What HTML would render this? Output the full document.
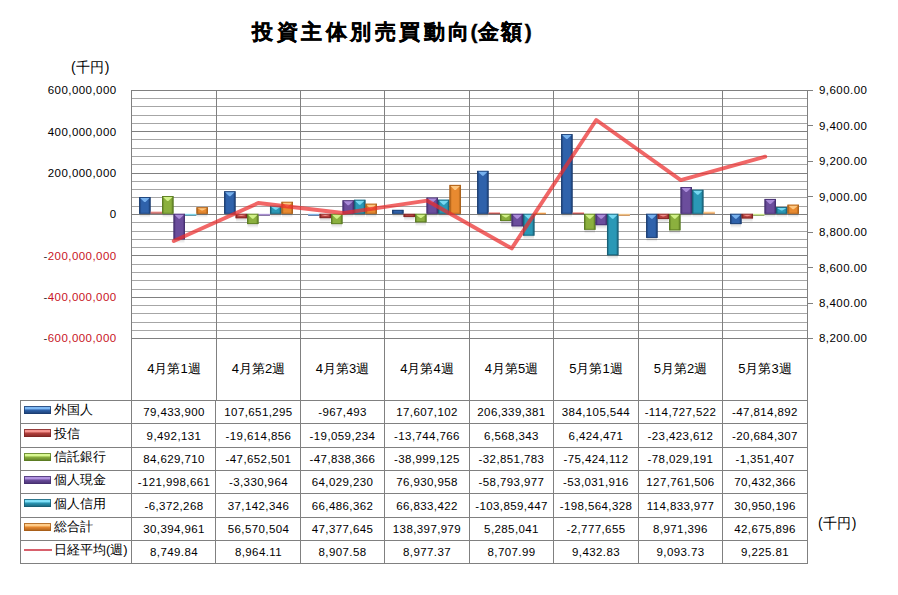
<!DOCTYPE html>
<html><head><meta charset="utf-8"><style>
html,body{margin:0;padding:0;background:#fff;}
body{width:898px;height:595px;position:relative;overflow:hidden;font-family:"Liberation Sans",sans-serif;color:#000;}
svg{position:absolute;left:0;top:0;}
.t{position:absolute;white-space:nowrap;line-height:16px;}
.title{font-size:21px;font-weight:bold;line-height:28px;-webkit-text-stroke:0.35px #000;}
.cj{letter-spacing:3.5px;}
.lab{font-size:14px;letter-spacing:0.4px;}
.ax{font-size:11.5px;text-align:right;letter-spacing:0.45px;}
.cell{width:84px;text-align:center;font-size:11.5px;letter-spacing:0.4px;}
.hd{letter-spacing:0;font-size:13px;}
.lname{font-size:13px;line-height:18px;}
</style></head><body>
<svg width="898" height="595">
<defs><linearGradient id="g0" x1="0" x2="1" y1="0" y2="0"><stop offset="0" stop-color="#1b3d70"/><stop offset="0.22" stop-color="#2f62ab"/><stop offset="0.78" stop-color="#2f62ab"/><stop offset="1" stop-color="#1b3d70"/></linearGradient><linearGradient id="k0" x1="0" x2="0" y1="0" y2="1"><stop offset="0" stop-color="#80baf5"/><stop offset="0.35" stop-color="#80baf5"/><stop offset="0.5" stop-color="#2f62ab"/><stop offset="1" stop-color="#1b3d70"/></linearGradient><linearGradient id="g1" x1="0" x2="1" y1="0" y2="0"><stop offset="0" stop-color="#7e2624"/><stop offset="0.22" stop-color="#b5403d"/><stop offset="0.78" stop-color="#b5403d"/><stop offset="1" stop-color="#7e2624"/></linearGradient><linearGradient id="k1" x1="0" x2="0" y1="0" y2="1"><stop offset="0" stop-color="#f59590"/><stop offset="0.35" stop-color="#f59590"/><stop offset="0.5" stop-color="#b5403d"/><stop offset="1" stop-color="#7e2624"/></linearGradient><linearGradient id="g2" x1="0" x2="1" y1="0" y2="0"><stop offset="0" stop-color="#5a7a22"/><stop offset="0.22" stop-color="#8bb03e"/><stop offset="0.78" stop-color="#8bb03e"/><stop offset="1" stop-color="#5a7a22"/></linearGradient><linearGradient id="k2" x1="0" x2="0" y1="0" y2="1"><stop offset="0" stop-color="#d8f890"/><stop offset="0.35" stop-color="#d8f890"/><stop offset="0.5" stop-color="#8bb03e"/><stop offset="1" stop-color="#5a7a22"/></linearGradient><linearGradient id="g3" x1="0" x2="1" y1="0" y2="0"><stop offset="0" stop-color="#463070"/><stop offset="0.22" stop-color="#6b4d9c"/><stop offset="0.78" stop-color="#6b4d9c"/><stop offset="1" stop-color="#463070"/></linearGradient><linearGradient id="k3" x1="0" x2="0" y1="0" y2="1"><stop offset="0" stop-color="#b193e0"/><stop offset="0.35" stop-color="#b193e0"/><stop offset="0.5" stop-color="#6b4d9c"/><stop offset="1" stop-color="#463070"/></linearGradient><linearGradient id="g4" x1="0" x2="1" y1="0" y2="0"><stop offset="0" stop-color="#185e74"/><stop offset="0.22" stop-color="#2a98b6"/><stop offset="0.78" stop-color="#2a98b6"/><stop offset="1" stop-color="#185e74"/></linearGradient><linearGradient id="k4" x1="0" x2="0" y1="0" y2="1"><stop offset="0" stop-color="#80e0f8"/><stop offset="0.35" stop-color="#80e0f8"/><stop offset="0.5" stop-color="#2a98b6"/><stop offset="1" stop-color="#185e74"/></linearGradient><linearGradient id="g5" x1="0" x2="1" y1="0" y2="0"><stop offset="0" stop-color="#a85e18"/><stop offset="0.22" stop-color="#e88a30"/><stop offset="0.78" stop-color="#e88a30"/><stop offset="1" stop-color="#a85e18"/></linearGradient><linearGradient id="k5" x1="0" x2="0" y1="0" y2="1"><stop offset="0" stop-color="#ffcc88"/><stop offset="0.35" stop-color="#ffcc88"/><stop offset="0.5" stop-color="#e88a30"/><stop offset="1" stop-color="#a85e18"/></linearGradient><linearGradient id="sh" x1="0" x2="0" y1="0" y2="1"><stop offset="0" stop-color="#000" stop-opacity="0.16"/><stop offset="1" stop-color="#000" stop-opacity="0"/></linearGradient></defs>
<line x1="131" y1="90.5" x2="807" y2="90.5" stroke="#808080" stroke-width="1"/>
<line x1="131" y1="98.5" x2="807" y2="98.5" stroke="#a6a6a6" stroke-width="1"/>
<line x1="131" y1="106.5" x2="807" y2="106.5" stroke="#a6a6a6" stroke-width="1"/>
<line x1="131" y1="115.5" x2="807" y2="115.5" stroke="#a6a6a6" stroke-width="1"/>
<line x1="131" y1="123.5" x2="807" y2="123.5" stroke="#a6a6a6" stroke-width="1"/>
<line x1="131" y1="131.5" x2="807" y2="131.5" stroke="#808080" stroke-width="1"/>
<line x1="131" y1="139.5" x2="807" y2="139.5" stroke="#a6a6a6" stroke-width="1"/>
<line x1="131" y1="148.5" x2="807" y2="148.5" stroke="#a6a6a6" stroke-width="1"/>
<line x1="131" y1="156.5" x2="807" y2="156.5" stroke="#a6a6a6" stroke-width="1"/>
<line x1="131" y1="164.5" x2="807" y2="164.5" stroke="#a6a6a6" stroke-width="1"/>
<line x1="131" y1="173.5" x2="807" y2="173.5" stroke="#808080" stroke-width="1"/>
<line x1="131" y1="181.5" x2="807" y2="181.5" stroke="#a6a6a6" stroke-width="1"/>
<line x1="131" y1="189.5" x2="807" y2="189.5" stroke="#a6a6a6" stroke-width="1"/>
<line x1="131" y1="197.5" x2="807" y2="197.5" stroke="#a6a6a6" stroke-width="1"/>
<line x1="131" y1="206.5" x2="807" y2="206.5" stroke="#a6a6a6" stroke-width="1"/>
<line x1="131" y1="214.5" x2="807" y2="214.5" stroke="#808080" stroke-width="1"/>
<line x1="131" y1="222.5" x2="807" y2="222.5" stroke="#a6a6a6" stroke-width="1"/>
<line x1="131" y1="231.5" x2="807" y2="231.5" stroke="#a6a6a6" stroke-width="1"/>
<line x1="131" y1="239.5" x2="807" y2="239.5" stroke="#a6a6a6" stroke-width="1"/>
<line x1="131" y1="247.5" x2="807" y2="247.5" stroke="#a6a6a6" stroke-width="1"/>
<line x1="131" y1="255.5" x2="807" y2="255.5" stroke="#808080" stroke-width="1"/>
<line x1="131" y1="264.5" x2="807" y2="264.5" stroke="#a6a6a6" stroke-width="1"/>
<line x1="131" y1="272.5" x2="807" y2="272.5" stroke="#a6a6a6" stroke-width="1"/>
<line x1="131" y1="280.5" x2="807" y2="280.5" stroke="#a6a6a6" stroke-width="1"/>
<line x1="131" y1="289.5" x2="807" y2="289.5" stroke="#a6a6a6" stroke-width="1"/>
<line x1="131" y1="297.5" x2="807" y2="297.5" stroke="#808080" stroke-width="1"/>
<line x1="131" y1="305.5" x2="807" y2="305.5" stroke="#a6a6a6" stroke-width="1"/>
<line x1="131" y1="313.5" x2="807" y2="313.5" stroke="#a6a6a6" stroke-width="1"/>
<line x1="131" y1="322.5" x2="807" y2="322.5" stroke="#a6a6a6" stroke-width="1"/>
<line x1="131" y1="330.5" x2="807" y2="330.5" stroke="#a6a6a6" stroke-width="1"/>
<line x1="131" y1="338.5" x2="807" y2="338.5" stroke="#808080" stroke-width="1"/>
<line x1="131.5" y1="90" x2="131.5" y2="563.5" stroke="#808080" stroke-width="1"/>
<line x1="216.5" y1="90" x2="216.5" y2="400.5" stroke="#808080" stroke-width="1"/>
<line x1="215.5" y1="400.5" x2="215.5" y2="563.5" stroke="#808080" stroke-width="1"/>
<line x1="300.5" y1="90" x2="300.5" y2="563.5" stroke="#808080" stroke-width="1"/>
<line x1="384.5" y1="90" x2="384.5" y2="563.5" stroke="#808080" stroke-width="1"/>
<line x1="469.5" y1="90" x2="469.5" y2="563.5" stroke="#808080" stroke-width="1"/>
<line x1="553.5" y1="90" x2="553.5" y2="563.5" stroke="#808080" stroke-width="1"/>
<line x1="638.5" y1="90" x2="638.5" y2="563.5" stroke="#808080" stroke-width="1"/>
<line x1="722.5" y1="90" x2="722.5" y2="563.5" stroke="#808080" stroke-width="1"/>
<line x1="807.5" y1="90" x2="807.5" y2="563.5" stroke="#808080" stroke-width="1"/>
<line x1="807" y1="90.5" x2="813" y2="90.5" stroke="#808080" stroke-width="1"/>
<line x1="807" y1="125.5" x2="813" y2="125.5" stroke="#808080" stroke-width="1"/>
<line x1="807" y1="161.5" x2="813" y2="161.5" stroke="#808080" stroke-width="1"/>
<line x1="807" y1="196.5" x2="813" y2="196.5" stroke="#808080" stroke-width="1"/>
<line x1="807" y1="232.5" x2="813" y2="232.5" stroke="#808080" stroke-width="1"/>
<line x1="807" y1="267.5" x2="813" y2="267.5" stroke="#808080" stroke-width="1"/>
<line x1="807" y1="303.5" x2="813" y2="303.5" stroke="#808080" stroke-width="1"/>
<line x1="807" y1="338.5" x2="813" y2="338.5" stroke="#808080" stroke-width="1"/>
<rect x="139.60" y="213.80" width="10.47" height="4" fill="url(#sh)"/>
<rect x="139.10" y="197.08" width="11.47" height="16.72" fill="url(#g0)"/>
<rect x="139.60" y="197.58" width="10.47" height="15.72" fill="none" stroke="#1b3d70" stroke-opacity="0.8" stroke-width="1"/>
<polygon points="140.10,198.08 149.57,198.08 145.44,202.08 144.24,202.08" fill="#80baf5" fill-opacity="0.9"/>
<rect x="150.57" y="211.54" width="11.47" height="2.26" fill="url(#k1)" opacity="0.85"/>
<rect x="162.54" y="213.80" width="10.47" height="4" fill="url(#sh)"/>
<rect x="162.04" y="196.01" width="11.47" height="17.79" fill="url(#g2)"/>
<rect x="162.54" y="196.51" width="10.47" height="16.79" fill="none" stroke="#5a7a22" stroke-opacity="0.8" stroke-width="1"/>
<polygon points="163.04,197.01 172.51,197.01 168.38,201.01 167.18,201.01" fill="#d8f890" fill-opacity="0.9"/>
<rect x="174.01" y="239.41" width="10.47" height="4" fill="url(#sh)"/>
<rect x="173.51" y="213.80" width="11.47" height="25.61" fill="url(#g3)"/>
<rect x="174.01" y="214.30" width="10.47" height="24.61" fill="none" stroke="#463070" stroke-opacity="0.8" stroke-width="1"/>
<polygon points="174.51,214.80 183.98,214.80 179.84,218.80 178.65,218.80" fill="#b193e0" fill-opacity="0.9"/>
<rect x="184.98" y="213.80" width="11.47" height="2.00" fill="url(#k4)" opacity="0.85"/>
<rect x="196.95" y="213.80" width="10.47" height="4" fill="url(#sh)"/>
<rect x="196.45" y="207.22" width="11.47" height="6.58" fill="url(#g5)"/>
<rect x="196.95" y="207.72" width="10.47" height="5.58" fill="none" stroke="#a85e18" stroke-opacity="0.8" stroke-width="1"/>
<polygon points="197.45,208.22 206.92,208.22 202.78,210.51 201.59,210.51" fill="#ffcc88" fill-opacity="0.9"/>
<rect x="224.60" y="213.80" width="10.47" height="4" fill="url(#sh)"/>
<rect x="224.10" y="191.25" width="11.47" height="22.55" fill="url(#g0)"/>
<rect x="224.60" y="191.75" width="10.47" height="21.55" fill="none" stroke="#1b3d70" stroke-opacity="0.8" stroke-width="1"/>
<polygon points="225.10,192.25 234.57,192.25 230.44,196.25 229.24,196.25" fill="#80baf5" fill-opacity="0.9"/>
<rect x="236.07" y="218.25" width="10.47" height="4" fill="url(#sh)"/>
<rect x="235.57" y="213.80" width="11.47" height="4.45" fill="url(#g1)"/>
<rect x="236.07" y="214.30" width="10.47" height="3.45" fill="none" stroke="#7e2624" stroke-opacity="0.8" stroke-width="1"/>
<polygon points="236.57,214.80 246.04,214.80 241.91,216.03 240.71,216.03" fill="#f59590" fill-opacity="0.9"/>
<rect x="247.54" y="224.05" width="10.47" height="4" fill="url(#sh)"/>
<rect x="247.04" y="213.80" width="11.47" height="10.25" fill="url(#g2)"/>
<rect x="247.54" y="214.30" width="10.47" height="9.25" fill="none" stroke="#5a7a22" stroke-opacity="0.8" stroke-width="1"/>
<polygon points="248.04,214.80 257.51,214.80 253.38,218.80 252.18,218.80" fill="#d8f890" fill-opacity="0.9"/>
<rect x="258.51" y="213.80" width="11.47" height="2.00" fill="url(#k3)" opacity="0.85"/>
<rect x="270.48" y="213.80" width="10.47" height="4" fill="url(#sh)"/>
<rect x="269.98" y="205.82" width="11.47" height="7.98" fill="url(#g4)"/>
<rect x="270.48" y="206.32" width="10.47" height="6.98" fill="none" stroke="#185e74" stroke-opacity="0.8" stroke-width="1"/>
<polygon points="270.98,206.82 280.45,206.82 276.32,209.81 275.12,209.81" fill="#80e0f8" fill-opacity="0.9"/>
<rect x="281.95" y="213.80" width="10.47" height="4" fill="url(#sh)"/>
<rect x="281.45" y="201.81" width="11.47" height="11.99" fill="url(#g5)"/>
<rect x="281.95" y="202.31" width="10.47" height="10.99" fill="none" stroke="#a85e18" stroke-opacity="0.8" stroke-width="1"/>
<polygon points="282.45,202.81 291.92,202.81 287.79,206.81 286.58,206.81" fill="#ffcc88" fill-opacity="0.9"/>
<rect x="308.10" y="213.80" width="11.47" height="2.00" fill="url(#k0)" opacity="0.85"/>
<rect x="320.07" y="218.14" width="10.47" height="4" fill="url(#sh)"/>
<rect x="319.57" y="213.80" width="11.47" height="4.34" fill="url(#g1)"/>
<rect x="320.07" y="214.30" width="10.47" height="3.34" fill="none" stroke="#7e2624" stroke-opacity="0.8" stroke-width="1"/>
<polygon points="320.57,214.80 330.04,214.80 325.91,215.97 324.71,215.97" fill="#f59590" fill-opacity="0.9"/>
<rect x="331.54" y="224.09" width="10.47" height="4" fill="url(#sh)"/>
<rect x="331.04" y="213.80" width="11.47" height="10.29" fill="url(#g2)"/>
<rect x="331.54" y="214.30" width="10.47" height="9.29" fill="none" stroke="#5a7a22" stroke-opacity="0.8" stroke-width="1"/>
<polygon points="332.04,214.80 341.51,214.80 337.38,218.80 336.18,218.80" fill="#d8f890" fill-opacity="0.9"/>
<rect x="343.01" y="213.80" width="10.47" height="4" fill="url(#sh)"/>
<rect x="342.51" y="200.27" width="11.47" height="13.53" fill="url(#g3)"/>
<rect x="343.01" y="200.77" width="10.47" height="12.53" fill="none" stroke="#463070" stroke-opacity="0.8" stroke-width="1"/>
<polygon points="343.51,201.27 352.98,201.27 348.85,205.27 347.65,205.27" fill="#b193e0" fill-opacity="0.9"/>
<rect x="354.48" y="213.80" width="10.47" height="4" fill="url(#sh)"/>
<rect x="353.98" y="199.76" width="11.47" height="14.04" fill="url(#g4)"/>
<rect x="354.48" y="200.26" width="10.47" height="13.04" fill="none" stroke="#185e74" stroke-opacity="0.8" stroke-width="1"/>
<polygon points="354.98,200.76 364.45,200.76 360.32,204.76 359.12,204.76" fill="#80e0f8" fill-opacity="0.9"/>
<rect x="365.95" y="213.80" width="10.47" height="4" fill="url(#sh)"/>
<rect x="365.45" y="203.71" width="11.47" height="10.09" fill="url(#g5)"/>
<rect x="365.95" y="204.21" width="10.47" height="9.09" fill="none" stroke="#a85e18" stroke-opacity="0.8" stroke-width="1"/>
<polygon points="366.45,204.71 375.92,204.71 371.79,208.71 370.59,208.71" fill="#ffcc88" fill-opacity="0.9"/>
<rect x="392.60" y="213.80" width="10.47" height="4" fill="url(#sh)"/>
<rect x="392.10" y="209.86" width="11.47" height="3.94" fill="url(#g0)"/>
<rect x="392.60" y="210.36" width="10.47" height="2.94" fill="none" stroke="#1b3d70" stroke-opacity="0.8" stroke-width="1"/>
<rect x="404.07" y="217.04" width="10.47" height="4" fill="url(#sh)"/>
<rect x="403.57" y="213.80" width="11.47" height="3.24" fill="url(#g1)"/>
<rect x="404.07" y="214.30" width="10.47" height="2.24" fill="none" stroke="#7e2624" stroke-opacity="0.8" stroke-width="1"/>
<rect x="415.54" y="222.26" width="10.47" height="4" fill="url(#sh)"/>
<rect x="415.04" y="213.80" width="11.47" height="8.46" fill="url(#g2)"/>
<rect x="415.54" y="214.30" width="10.47" height="7.46" fill="none" stroke="#5a7a22" stroke-opacity="0.8" stroke-width="1"/>
<polygon points="416.04,214.80 425.51,214.80 421.38,218.03 420.18,218.03" fill="#d8f890" fill-opacity="0.9"/>
<rect x="427.01" y="213.80" width="10.47" height="4" fill="url(#sh)"/>
<rect x="426.51" y="197.60" width="11.47" height="16.20" fill="url(#g3)"/>
<rect x="427.01" y="198.10" width="10.47" height="15.20" fill="none" stroke="#463070" stroke-opacity="0.8" stroke-width="1"/>
<polygon points="427.51,198.60 436.98,198.60 432.85,202.60 431.65,202.60" fill="#b193e0" fill-opacity="0.9"/>
<rect x="438.48" y="213.80" width="10.47" height="4" fill="url(#sh)"/>
<rect x="437.98" y="199.69" width="11.47" height="14.11" fill="url(#g4)"/>
<rect x="438.48" y="200.19" width="10.47" height="13.11" fill="none" stroke="#185e74" stroke-opacity="0.8" stroke-width="1"/>
<polygon points="438.98,200.69 448.45,200.69 444.32,204.69 443.12,204.69" fill="#80e0f8" fill-opacity="0.9"/>
<rect x="449.95" y="213.80" width="10.47" height="4" fill="url(#sh)"/>
<rect x="449.45" y="184.90" width="11.47" height="28.90" fill="url(#g5)"/>
<rect x="449.95" y="185.40" width="10.47" height="27.90" fill="none" stroke="#a85e18" stroke-opacity="0.8" stroke-width="1"/>
<polygon points="450.45,185.90 459.92,185.90 455.79,189.90 454.59,189.90" fill="#ffcc88" fill-opacity="0.9"/>
<rect x="477.60" y="213.80" width="10.47" height="4" fill="url(#sh)"/>
<rect x="477.10" y="170.86" width="11.47" height="42.94" fill="url(#g0)"/>
<rect x="477.60" y="171.36" width="10.47" height="41.94" fill="none" stroke="#1b3d70" stroke-opacity="0.8" stroke-width="1"/>
<polygon points="478.10,171.86 487.57,171.86 483.44,175.86 482.24,175.86" fill="#80baf5" fill-opacity="0.9"/>
<rect x="488.57" y="212.14" width="11.47" height="2.00" fill="url(#k1)" opacity="0.85"/>
<rect x="500.54" y="220.99" width="10.47" height="4" fill="url(#sh)"/>
<rect x="500.04" y="213.80" width="11.47" height="7.19" fill="url(#g2)"/>
<rect x="500.54" y="214.30" width="10.47" height="6.19" fill="none" stroke="#5a7a22" stroke-opacity="0.8" stroke-width="1"/>
<polygon points="501.04,214.80 510.51,214.80 506.38,217.39 505.18,217.39" fill="#d8f890" fill-opacity="0.9"/>
<rect x="512.01" y="226.35" width="10.47" height="4" fill="url(#sh)"/>
<rect x="511.51" y="213.80" width="11.47" height="12.55" fill="url(#g3)"/>
<rect x="512.01" y="214.30" width="10.47" height="11.55" fill="none" stroke="#463070" stroke-opacity="0.8" stroke-width="1"/>
<polygon points="512.51,214.80 521.98,214.80 517.85,218.80 516.64,218.80" fill="#b193e0" fill-opacity="0.9"/>
<rect x="523.48" y="235.66" width="10.47" height="4" fill="url(#sh)"/>
<rect x="522.98" y="213.80" width="11.47" height="21.86" fill="url(#g4)"/>
<rect x="523.48" y="214.30" width="10.47" height="20.86" fill="none" stroke="#185e74" stroke-opacity="0.8" stroke-width="1"/>
<polygon points="523.98,214.80 533.45,214.80 529.32,218.80 528.12,218.80" fill="#80e0f8" fill-opacity="0.9"/>
<rect x="534.45" y="212.41" width="11.47" height="2.00" fill="url(#k5)" opacity="0.85"/>
<rect x="561.60" y="213.80" width="10.47" height="4" fill="url(#sh)"/>
<rect x="561.10" y="134.12" width="11.47" height="79.68" fill="url(#g0)"/>
<rect x="561.60" y="134.62" width="10.47" height="78.68" fill="none" stroke="#1b3d70" stroke-opacity="0.8" stroke-width="1"/>
<polygon points="562.10,135.12 571.57,135.12 567.44,139.12 566.24,139.12" fill="#80baf5" fill-opacity="0.9"/>
<rect x="572.57" y="212.17" width="11.47" height="2.00" fill="url(#k1)" opacity="0.85"/>
<rect x="584.54" y="229.79" width="10.47" height="4" fill="url(#sh)"/>
<rect x="584.04" y="213.80" width="11.47" height="15.99" fill="url(#g2)"/>
<rect x="584.54" y="214.30" width="10.47" height="14.99" fill="none" stroke="#5a7a22" stroke-opacity="0.8" stroke-width="1"/>
<polygon points="585.04,214.80 594.51,214.80 590.38,218.80 589.18,218.80" fill="#d8f890" fill-opacity="0.9"/>
<rect x="596.01" y="225.16" width="10.47" height="4" fill="url(#sh)"/>
<rect x="595.51" y="213.80" width="11.47" height="11.36" fill="url(#g3)"/>
<rect x="596.01" y="214.30" width="10.47" height="10.36" fill="none" stroke="#463070" stroke-opacity="0.8" stroke-width="1"/>
<polygon points="596.51,214.80 605.98,214.80 601.85,218.80 600.64,218.80" fill="#b193e0" fill-opacity="0.9"/>
<rect x="607.48" y="255.24" width="10.47" height="4" fill="url(#sh)"/>
<rect x="606.98" y="213.80" width="11.47" height="41.44" fill="url(#g4)"/>
<rect x="607.48" y="214.30" width="10.47" height="40.44" fill="none" stroke="#185e74" stroke-opacity="0.8" stroke-width="1"/>
<polygon points="607.98,214.80 617.45,214.80 613.32,218.80 612.12,218.80" fill="#80e0f8" fill-opacity="0.9"/>
<rect x="618.45" y="213.80" width="11.47" height="2.00" fill="url(#k5)" opacity="0.85"/>
<rect x="646.60" y="237.91" width="10.47" height="4" fill="url(#sh)"/>
<rect x="646.10" y="213.80" width="11.47" height="24.11" fill="url(#g0)"/>
<rect x="646.60" y="214.30" width="10.47" height="23.11" fill="none" stroke="#1b3d70" stroke-opacity="0.8" stroke-width="1"/>
<polygon points="647.10,214.80 656.57,214.80 652.44,218.80 651.24,218.80" fill="#80baf5" fill-opacity="0.9"/>
<rect x="658.07" y="219.04" width="10.47" height="4" fill="url(#sh)"/>
<rect x="657.57" y="213.80" width="11.47" height="5.24" fill="url(#g1)"/>
<rect x="658.07" y="214.30" width="10.47" height="4.24" fill="none" stroke="#7e2624" stroke-opacity="0.8" stroke-width="1"/>
<polygon points="658.57,214.80 668.04,214.80 663.91,216.42 662.71,216.42" fill="#f59590" fill-opacity="0.9"/>
<rect x="669.54" y="230.33" width="10.47" height="4" fill="url(#sh)"/>
<rect x="669.04" y="213.80" width="11.47" height="16.53" fill="url(#g2)"/>
<rect x="669.54" y="214.30" width="10.47" height="15.53" fill="none" stroke="#5a7a22" stroke-opacity="0.8" stroke-width="1"/>
<polygon points="670.04,214.80 679.51,214.80 675.38,218.80 674.18,218.80" fill="#d8f890" fill-opacity="0.9"/>
<rect x="681.01" y="213.80" width="10.47" height="4" fill="url(#sh)"/>
<rect x="680.51" y="187.10" width="11.47" height="26.70" fill="url(#g3)"/>
<rect x="681.01" y="187.60" width="10.47" height="25.70" fill="none" stroke="#463070" stroke-opacity="0.8" stroke-width="1"/>
<polygon points="681.51,188.10 690.98,188.10 686.85,192.10 685.64,192.10" fill="#b193e0" fill-opacity="0.9"/>
<rect x="692.48" y="213.80" width="10.47" height="4" fill="url(#sh)"/>
<rect x="691.98" y="189.77" width="11.47" height="24.03" fill="url(#g4)"/>
<rect x="692.48" y="190.27" width="10.47" height="23.03" fill="none" stroke="#185e74" stroke-opacity="0.8" stroke-width="1"/>
<polygon points="692.98,190.77 702.45,190.77 698.32,194.77 697.12,194.77" fill="#80e0f8" fill-opacity="0.9"/>
<rect x="703.45" y="211.65" width="11.47" height="2.15" fill="url(#k5)" opacity="0.85"/>
<rect x="730.60" y="224.08" width="10.47" height="4" fill="url(#sh)"/>
<rect x="730.10" y="213.80" width="11.47" height="10.28" fill="url(#g0)"/>
<rect x="730.60" y="214.30" width="10.47" height="9.28" fill="none" stroke="#1b3d70" stroke-opacity="0.8" stroke-width="1"/>
<polygon points="731.10,214.80 740.57,214.80 736.44,218.80 735.24,218.80" fill="#80baf5" fill-opacity="0.9"/>
<rect x="742.07" y="218.47" width="10.47" height="4" fill="url(#sh)"/>
<rect x="741.57" y="213.80" width="11.47" height="4.67" fill="url(#g1)"/>
<rect x="742.07" y="214.30" width="10.47" height="3.67" fill="none" stroke="#7e2624" stroke-opacity="0.8" stroke-width="1"/>
<polygon points="742.57,214.80 752.04,214.80 747.91,216.14 746.71,216.14" fill="#f59590" fill-opacity="0.9"/>
<rect x="753.04" y="213.80" width="11.47" height="2.00" fill="url(#k2)" opacity="0.85"/>
<rect x="765.01" y="213.80" width="10.47" height="4" fill="url(#sh)"/>
<rect x="764.51" y="198.94" width="11.47" height="14.86" fill="url(#g3)"/>
<rect x="765.01" y="199.44" width="10.47" height="13.86" fill="none" stroke="#463070" stroke-opacity="0.8" stroke-width="1"/>
<polygon points="765.51,199.94 774.98,199.94 770.85,203.94 769.64,203.94" fill="#b193e0" fill-opacity="0.9"/>
<rect x="776.48" y="213.80" width="10.47" height="4" fill="url(#sh)"/>
<rect x="775.98" y="207.10" width="11.47" height="6.70" fill="url(#g4)"/>
<rect x="776.48" y="207.60" width="10.47" height="5.70" fill="none" stroke="#185e74" stroke-opacity="0.8" stroke-width="1"/>
<polygon points="776.98,208.10 786.45,208.10 782.32,210.45 781.12,210.45" fill="#80e0f8" fill-opacity="0.9"/>
<rect x="787.95" y="213.80" width="10.47" height="4" fill="url(#sh)"/>
<rect x="787.45" y="204.68" width="11.47" height="9.12" fill="url(#g5)"/>
<rect x="787.95" y="205.18" width="10.47" height="8.12" fill="none" stroke="#a85e18" stroke-opacity="0.8" stroke-width="1"/>
<polygon points="788.45,205.68 797.92,205.68 793.79,209.24 792.59,209.24" fill="#ffcc88" fill-opacity="0.9"/>
<polyline points="173.75,241.00 258.25,203.04 342.75,213.06 427.25,200.69 511.75,248.41 596.25,120.01 680.75,180.08 765.25,156.69" fill="none" stroke="#ec2c2c" stroke-opacity="0.72" stroke-width="3.9" stroke-linejoin="round" stroke-linecap="round"/>
<line x1="20" y1="400.5" x2="808" y2="400.5" stroke="#808080" stroke-width="1"/>
<line x1="20" y1="423.5" x2="808" y2="423.5" stroke="#808080" stroke-width="1"/>
<line x1="20" y1="447.5" x2="808" y2="447.5" stroke="#808080" stroke-width="1"/>
<line x1="20" y1="470.5" x2="808" y2="470.5" stroke="#808080" stroke-width="1"/>
<line x1="20" y1="493.5" x2="808" y2="493.5" stroke="#808080" stroke-width="1"/>
<line x1="20" y1="517.5" x2="808" y2="517.5" stroke="#808080" stroke-width="1"/>
<line x1="20" y1="540.5" x2="808" y2="540.5" stroke="#808080" stroke-width="1"/>
<line x1="20" y1="563.5" x2="808" y2="563.5" stroke="#808080" stroke-width="1"/>
<line x1="20.5" y1="400" x2="20.5" y2="564" stroke="#808080" stroke-width="1"/>
<rect x="24" y="406" width="27" height="8" fill="url(#k0)"/>
<rect x="24.5" y="406.5" width="26" height="7" fill="none" stroke="#1b3d70" stroke-opacity="0.8"/>
<rect x="24" y="429" width="27" height="8" fill="url(#k1)"/>
<rect x="24.5" y="429.5" width="26" height="7" fill="none" stroke="#7e2624" stroke-opacity="0.8"/>
<rect x="24" y="453" width="27" height="8" fill="url(#k2)"/>
<rect x="24.5" y="453.5" width="26" height="7" fill="none" stroke="#5a7a22" stroke-opacity="0.8"/>
<rect x="24" y="476" width="27" height="8" fill="url(#k3)"/>
<rect x="24.5" y="476.5" width="26" height="7" fill="none" stroke="#463070" stroke-opacity="0.8"/>
<rect x="24" y="499" width="27" height="8" fill="url(#k4)"/>
<rect x="24.5" y="499.5" width="26" height="7" fill="none" stroke="#185e74" stroke-opacity="0.8"/>
<rect x="24" y="523" width="27" height="8" fill="url(#k5)"/>
<rect x="24.5" y="523.5" width="26" height="7" fill="none" stroke="#a85e18" stroke-opacity="0.8"/>
<rect x="24" y="549" width="28" height="2" fill="#d8606c"/>
</svg>
<div class="t title" style="left:252px;top:18px"><span class="cj" style="margin-right:-2px">投資主体別売買動向</span>(<span class="cj" style="letter-spacing:2.6px">金額</span>)</div><div class="t lab" style="left:71px;top:59px">(千円)</div><div class="t ax" style="right:781.4px;top:82.4px;color:#000">600,000,000</div><div class="t ax" style="right:781.4px;top:123.7px;color:#000">400,000,000</div><div class="t ax" style="right:781.4px;top:165.1px;color:#000">200,000,000</div><div class="t ax" style="right:781.4px;top:206.4px;color:#000">0</div><div class="t ax" style="right:781.4px;top:247.7px;color:#c8141e"><span style="color:#333">-</span>200,000,000</div><div class="t ax" style="right:781.4px;top:289.1px;color:#c8141e"><span style="color:#333">-</span>400,000,000</div><div class="t ax" style="right:781.4px;top:330.4px;color:#c8141e"><span style="color:#333">-</span>600,000,000</div><div class="t ax r" style="left:819px;top:82.4px">9,600.00</div><div class="t ax r" style="left:819px;top:117.8px">9,400.00</div><div class="t ax r" style="left:819px;top:153.3px">9,200.00</div><div class="t ax r" style="left:819px;top:188.7px">9,000.00</div><div class="t ax r" style="left:819px;top:224.1px">8,800.00</div><div class="t ax r" style="left:819px;top:259.5px">8,600.00</div><div class="t ax r" style="left:819px;top:295.0px">8,400.00</div><div class="t ax r" style="left:819px;top:330.4px">8,200.00</div><div class="t cell hd" style="left:132.0px;top:361px">4月第1週</div><div class="t cell hd" style="left:216.5px;top:361px">4月第2週</div><div class="t cell hd" style="left:300.5px;top:361px">4月第3週</div><div class="t cell hd" style="left:385.0px;top:361px">4月第4週</div><div class="t cell hd" style="left:469.5px;top:361px">4月第5週</div><div class="t cell hd" style="left:554.0px;top:361px">5月第1週</div><div class="t cell hd" style="left:638.5px;top:361px">5月第2週</div><div class="t cell hd" style="left:723.0px;top:361px">5月第3週</div><div class="t lname" style="left:54px;top:401.0px">外国人</div><div class="t cell" style="left:132.0px;top:404.0px">79,433,900</div><div class="t cell" style="left:216.5px;top:404.0px">107,651,295</div><div class="t cell" style="left:300.5px;top:404.0px">-967,493</div><div class="t cell" style="left:385.0px;top:404.0px">17,607,102</div><div class="t cell" style="left:469.5px;top:404.0px">206,339,381</div><div class="t cell" style="left:554.0px;top:404.0px">384,105,544</div><div class="t cell" style="left:638.5px;top:404.0px">-114,727,522</div><div class="t cell" style="left:723.0px;top:404.0px">-47,814,892</div><div class="t lname" style="left:54px;top:424.5px">投信</div><div class="t cell" style="left:132.0px;top:427.5px">9,492,131</div><div class="t cell" style="left:216.5px;top:427.5px">-19,614,856</div><div class="t cell" style="left:300.5px;top:427.5px">-19,059,234</div><div class="t cell" style="left:385.0px;top:427.5px">-13,744,766</div><div class="t cell" style="left:469.5px;top:427.5px">6,568,343</div><div class="t cell" style="left:554.0px;top:427.5px">6,424,471</div><div class="t cell" style="left:638.5px;top:427.5px">-23,423,612</div><div class="t cell" style="left:723.0px;top:427.5px">-20,684,307</div><div class="t lname" style="left:54px;top:448.0px">信託銀行</div><div class="t cell" style="left:132.0px;top:451.0px">84,629,710</div><div class="t cell" style="left:216.5px;top:451.0px">-47,652,501</div><div class="t cell" style="left:300.5px;top:451.0px">-47,838,366</div><div class="t cell" style="left:385.0px;top:451.0px">-38,999,125</div><div class="t cell" style="left:469.5px;top:451.0px">-32,851,783</div><div class="t cell" style="left:554.0px;top:451.0px">-75,424,112</div><div class="t cell" style="left:638.5px;top:451.0px">-78,029,191</div><div class="t cell" style="left:723.0px;top:451.0px">-1,351,407</div><div class="t lname" style="left:54px;top:471.0px">個人現金</div><div class="t cell" style="left:132.0px;top:474.0px">-121,998,661</div><div class="t cell" style="left:216.5px;top:474.0px">-3,330,964</div><div class="t cell" style="left:300.5px;top:474.0px">64,029,230</div><div class="t cell" style="left:385.0px;top:474.0px">76,930,958</div><div class="t cell" style="left:469.5px;top:474.0px">-58,793,977</div><div class="t cell" style="left:554.0px;top:474.0px">-53,031,916</div><div class="t cell" style="left:638.5px;top:474.0px">127,761,506</div><div class="t cell" style="left:723.0px;top:474.0px">70,432,366</div><div class="t lname" style="left:54px;top:494.5px">個人信用</div><div class="t cell" style="left:132.0px;top:497.5px">-6,372,268</div><div class="t cell" style="left:216.5px;top:497.5px">37,142,346</div><div class="t cell" style="left:300.5px;top:497.5px">66,486,362</div><div class="t cell" style="left:385.0px;top:497.5px">66,833,422</div><div class="t cell" style="left:469.5px;top:497.5px">-103,859,447</div><div class="t cell" style="left:554.0px;top:497.5px">-198,564,328</div><div class="t cell" style="left:638.5px;top:497.5px">114,833,977</div><div class="t cell" style="left:723.0px;top:497.5px">30,950,196</div><div class="t lname" style="left:54px;top:518.0px">総合計</div><div class="t cell" style="left:132.0px;top:521.0px">30,394,961</div><div class="t cell" style="left:216.5px;top:521.0px">56,570,504</div><div class="t cell" style="left:300.5px;top:521.0px">47,377,645</div><div class="t cell" style="left:385.0px;top:521.0px">138,397,979</div><div class="t cell" style="left:469.5px;top:521.0px">5,285,041</div><div class="t cell" style="left:554.0px;top:521.0px">-2,777,655</div><div class="t cell" style="left:638.5px;top:521.0px">8,971,396</div><div class="t cell" style="left:723.0px;top:521.0px">42,675,896</div><div class="t lname" style="left:54px;top:541.0px">日経平均(週)</div><div class="t cell" style="left:132.0px;top:544.0px">8,749.84</div><div class="t cell" style="left:216.5px;top:544.0px">8,964.11</div><div class="t cell" style="left:300.5px;top:544.0px">8,907.58</div><div class="t cell" style="left:385.0px;top:544.0px">8,977.37</div><div class="t cell" style="left:469.5px;top:544.0px">8,707.99</div><div class="t cell" style="left:554.0px;top:544.0px">9,432.83</div><div class="t cell" style="left:638.5px;top:544.0px">9,093.73</div><div class="t cell" style="left:723.0px;top:544.0px">9,225.81</div><div class="t lab" style="left:818px;top:515px">(千円)</div>
</body></html>
